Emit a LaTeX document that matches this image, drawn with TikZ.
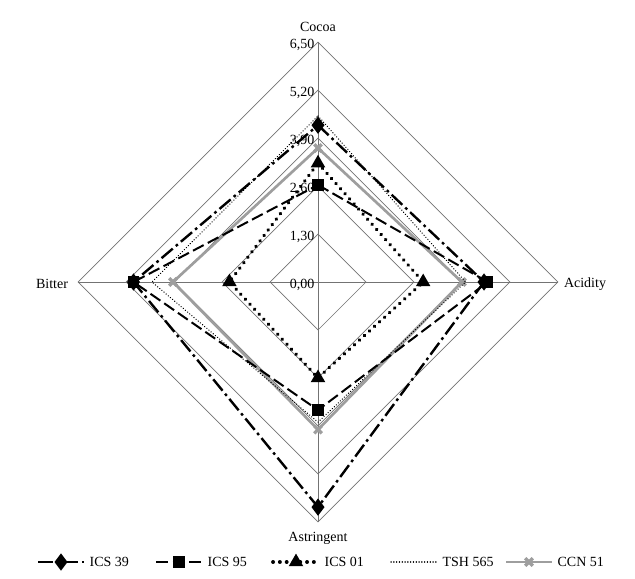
\documentclass[tikz,border=0pt]{standalone}
\usepackage{fontspec}
\setmainfont{Liberation Serif}
\usepackage{tikz}
\usetikzlibrary{plotmarks, calc}
\tikzstyle{grid} = [draw=black!55, line width=0.5pt]
\tikzstyle{lbl} = [font=\fontsize{10.5}{12}\selectfont, inner sep=1pt]
\tikzstyle{icsA} = [line width=1.8pt, dash pattern=on 11pt off 3pt on 2pt off 3pt, mark=diamond*, mark size=5pt, mark options={solid}]
\tikzstyle{icsB} = [line width=1.5pt, dash pattern=on 9pt off 3.5pt, mark=square*, mark size=3.5pt, mark options={solid}]
\tikzstyle{icsC} = [line width=2.8pt, dash pattern=on 0.1pt off 5pt, line cap=round, mark=triangle*, mark size=3.5pt, mark options={solid}]
\tikzstyle{tsh} = [line width=1pt, dash pattern=on 0.1pt off 2pt, line cap=round]
\tikzstyle{ccn} = [line width=2pt, black!38, mark=x, mark size=4pt, mark options={solid, line width=2.5pt}]
\begin{document}
\begin{tikzpicture}[x=0.75pt, y=-0.75pt]
	\useasboundingbox (0,0) rectangle (635,578);
	\def\k{36.9}
	\coordinate (c) at (318,282);

	\begin{scope}[shift={(318,282)}]
	% rings and axes
	\foreach \r in {1.3,2.6,3.9,5.2,6.5}
		\draw [grid] (0,-\r*\k) -- (\r*\k,0) -- (0,\r*\k) -- (-\r*\k,0) -- cycle;
	\draw [grid] (0,-6.5*\k) -- (0,6.5*\k);
	\draw [grid] (-6.5*\k,0) -- (6.5*\k,0);
	\foreach \r/\t in {0/{0,00},1.3/{1,30},2.6/{2,60},3.9/{3,90},5.2/{5,20},6.5/{6,50}}
		\node [lbl, anchor=east] at (-2,-\r*\k+3) {\t};

	% series: cocoa/acidity/astringent/bitter
	\foreach \st/\a/\b/\cc/\d in {ccn/3.63/3.9/4.0/3.93, tsh/4.5/4.0/3.8/4.5, icsC/3.22/2.85/2.6/2.4, icsB/2.63/4.6/3.47/5.0, icsA/4.25/4.5/6.1/5.0}
		\draw [\st] plot coordinates {(0,{-\a*\k}) ({\b*\k},0) (0,{\cc*\k}) ({-\d*\k},0)} -- cycle;
	\end{scope}

	\node (cocoa) [lbl] at (318,27) {Cocoa};
	\node (acid) [lbl] at (585,284) {Acidity};
	\node (bitter) [lbl] at (52,284) {Bitter};
	\node (astr) [lbl] at (318,538) {Astringent};

	% legend
	\foreach \st/\x/\t in {icsA/38/ICS 39, icsB/156/ICS 95, icsC/273/ICS 01, tsh/391/TSH 565, ccn/506/CCN 51} {
		\draw [\st, mark indices={2}] plot coordinates {(\x,562) ({\x+23},562) ({\x+46},562)};
		\node [lbl, anchor=west] at (\x+50,562) {\t};
	}
\end{tikzpicture}
\end{document}
